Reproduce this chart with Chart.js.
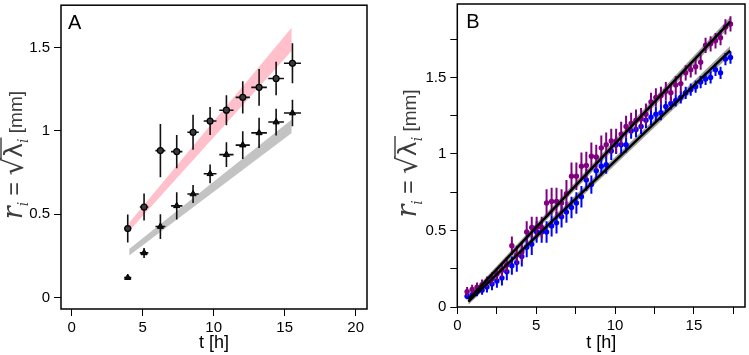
<!DOCTYPE html>
<html>
<head>
<meta charset="utf-8">
<script src="https://cdn.jsdelivr.net/npm/chart.js@4.4.0/dist/chart.umd.min.js"></script>
<style>
html, body { margin: 0; padding: 0; background: #fff; }
#wrap { position: relative; width: 749px; height: 355px; }
canvas { position: absolute; top: 0; }
</style>
</head>
<body>
<div id="wrap">
  <canvas id="chartA" width="375" height="355" style="left:0"></canvas>
  <canvas id="chartB" width="374" height="355" style="left:375px"></canvas>
</div>
<script>
// panel A: two point series with a shaded band each
const timeA = [3.95, 5.1, 6.25, 7.4, 8.55, 9.75, 10.9, 12.05, 13.2, 14.4, 15.55];
const timeErrA = [0.25, 0.3, 0.35, 0.4, 0.4, 0.45, 0.5, 0.5, 0.55, 0.55, 0.6];
const circleA = [0.415, 0.544, 0.882, 0.876, 0.992, 1.059, 1.124, 1.201, 1.261, 1.314, 1.405];
const circleErrA = [0.084, 0.081, 0.16, 0.1, 0.105, 0.084, 0.09, 0.097, 0.11, 0.1, 0.12];
const triangleA = [0.121, 0.269, 0.427, 0.551, 0.622, 0.743, 0.858, 0.915, 0.988, 1.053, 1.107];
const triangleErrA = [0.012, 0.03, 0.074, 0.082, 0.054, 0.056, 0.074, 0.083, 0.09, 0.08, 0.079];
const bandTimeA = [4.05, 15.5];
const pinkLowA = [0.40, 1.48];
const pinkHighA = [0.45, 1.62];
const greyLowA = [0.253, 0.988];
const greyHighA = [0.293, 1.069];

// panel B: purple and blue series with fitted lines
const timeB = [0.62, 0.94, 1.25, 1.57, 1.88, 2.20, 2.51, 2.83, 3.14, 3.46, 3.77, 4.09, 4.40, 4.72,
  5.03, 5.35, 5.66, 5.98, 6.29, 6.61, 6.92, 7.24, 7.55, 7.87, 8.18, 8.50, 8.81, 9.13, 9.44, 9.76,
  10.07, 10.39, 10.70, 11.02, 11.33, 11.65, 11.96, 12.28, 12.59, 12.91, 13.22, 13.54, 13.85, 14.17,
  14.48, 14.80, 15.11, 15.43, 15.74, 16.06, 16.37, 16.69, 17.00, 17.32];
const timeErrB = 0.13;
const purpleB = [0.10, 0.115, 0.13, 0.145, 0.165, 0.185, 0.215, 0.24, 0.275, 0.40, 0.34, 0.36, 0.49, 0.52,
  0.52, 0.52, 0.68, 0.69, 0.69, 0.68, 0.74, 0.855, 0.855, 0.92, 0.925, 0.985, 0.98, 1.04, 1.06, 1.085,
  1.085, 1.13, 1.18, 1.20, 1.22, 1.23, 1.26, 1.34, 1.37, 1.38, 1.41, 1.40, 1.45, 1.46,
  1.53, 1.55, 1.57, 1.60, 1.71, 1.72, 1.74, 1.76, 1.83, 1.85];
const purpleErrB = [0.03, 0.03, 0.03, 0.035, 0.035, 0.04, 0.04, 0.045, 0.05, 0.06, 0.06, 0.06, 0.07, 0.07,
  0.07, 0.07, 0.09, 0.09, 0.09, 0.09, 0.09, 0.09, 0.09, 0.09, 0.09, 0.09, 0.08, 0.08, 0.08, 0.08,
  0.08, 0.08, 0.07, 0.07, 0.07, 0.07, 0.07, 0.06, 0.06, 0.06, 0.06, 0.06, 0.06, 0.06,
  0.05, 0.05, 0.05, 0.05, 0.05, 0.05, 0.05, 0.05, 0.05, 0.05];
const blueB = [0.07, 0.08, 0.10, 0.11, 0.13, 0.15, 0.17, 0.19, 0.23, 0.27, 0.29, 0.33, 0.39, 0.41,
  0.49, 0.49, 0.49, 0.53, 0.55, 0.59, 0.62, 0.65, 0.68, 0.72, 0.83, 0.80, 0.89, 0.92, 0.93, 1.02,
  1.06, 1.06, 1.06, 1.15, 1.16, 1.18, 1.22, 1.24, 1.26, 1.27, 1.31, 1.33, 1.35, 1.37,
  1.40, 1.42, 1.44, 1.47, 1.49, 1.50, 1.55, 1.53, 1.62, 1.63];
const blueErrB = [0.02, 0.025, 0.03, 0.03, 0.035, 0.04, 0.045, 0.05, 0.055, 0.06, 0.06, 0.065, 0.065, 0.07,
  0.07, 0.07, 0.07, 0.07, 0.07, 0.07, 0.07, 0.07, 0.07, 0.07, 0.07, 0.06, 0.06, 0.06, 0.06, 0.06,
  0.06, 0.06, 0.05, 0.05, 0.05, 0.05, 0.05, 0.05, 0.05, 0.05, 0.04, 0.04, 0.04, 0.04,
  0.04, 0.04, 0.04, 0.04, 0.04, 0.04, 0.04, 0.04, 0.04, 0.04];
const fitTimeB = [0.7, 17.3];
const purpleFitB = [0.05, 1.865];
const purpleFitLowB = [0.03, 1.835];
const purpleFitHighB = [0.07, 1.895];
const blueFitB = [0.035, 1.675];
const blueFitLowB = [0.015, 1.645];
const blueFitHighB = [0.055, 1.705];

const FONT = '"Liberation Sans", Arial, sans-serif';
Chart.defaults.font.family = FONT;
Chart.defaults.color = '#000';

function pts(xs, ys) {
  return xs.map((x, i) => ({ x: x, y: ys[i] }));
}

// draws x/y error bars under each point dataset that has yErr
const errorBars = {
  id: 'errorBars',
  beforeDatasetDraw(chart, args) {
    const ds = chart.data.datasets[args.index];
    if (!ds.yErr) return;
    const xs = chart.scales.x, ys = chart.scales.y, ctx = chart.ctx;
    ctx.save();
    ctx.strokeStyle = ds.errColor;
    ctx.lineWidth = ds.errWidth;
    ds.data.forEach((p, i) => {
      const px = xs.getPixelForValue(p.x), py = ys.getPixelForValue(p.y);
      const dx = Array.isArray(ds.xErr) ? ds.xErr[i] : ds.xErr;
      ctx.beginPath();
      ctx.moveTo(px, ys.getPixelForValue(p.y - ds.yErr[i]));
      ctx.lineTo(px, ys.getPixelForValue(p.y + ds.yErr[i]));
      ctx.moveTo(xs.getPixelForValue(p.x - dx), py);
      ctx.lineTo(xs.getPixelForValue(p.x + dx), py);
      ctx.stroke();
    });
    ctx.restore();
  }
};

// y title  r_i = sqrt(lambda_i) [mm], drawn rotated
function drawYTitle(ctx, cx, cy) {
  const parts = [
    { t: 'r', f: 'italic 27px "DejaVu Serif"', dy: 0 },
    { t: 'i', f: 'italic 14px "DejaVu Serif"', dy: 6 },
    { t: ' = ', f: '23px ' + FONT, dy: 0 },
    { t: '\u221A', f: '28px "DejaVu Sans"', dy: 1, root: true },
    { t: '\u03BB', f: '25px "DejaVu Sans"', dy: 0, over: true },
    { t: 'i', f: 'italic 14px "DejaVu Serif"', dy: 6, over: true },
    { t: ' [mm]', f: '19px ' + FONT, dy: 0 }
  ];
  ctx.save();
  ctx.translate(cx, cy);
  ctx.rotate(-Math.PI / 2);
  ctx.fillStyle = '#3c3c3c';
  ctx.strokeStyle = '#3c3c3c';
  ctx.textBaseline = 'alphabetic';
  let total = 0;
  parts.forEach(p => { ctx.font = p.f; p.w = ctx.measureText(p.t).width; total += p.w; });
  let x = -total / 2;
  const base = 7;
  let ovStart = null, ovEnd = null;
  parts.forEach(p => {
    ctx.font = p.f;
    ctx.fillText(p.t, x, base + p.dy);
    if (p.root) ovStart = x + p.w - 1.5;
    if (p.over) ovEnd = x + p.w + 1;
    x += p.w;
  });
  ctx.lineWidth = 1.4;
  ctx.beginPath();
  ctx.moveTo(ovStart, base - 21);
  ctx.lineTo(ovEnd, base - 21);
  ctx.stroke();
  ctx.restore();
}

const frame = {
  id: 'frame',
  afterDraw(chart, args, opts) {
    const { ctx, chartArea: a } = chart;
    ctx.save();
    ctx.strokeStyle = '#000';
    ctx.lineWidth = 1.5;
    ctx.strokeRect(a.left, a.top, a.right - a.left, a.bottom - a.top);
    ctx.fillStyle = '#000';
    ctx.font = '20px ' + FONT;
    ctx.fillText(opts.letter, a.left + opts.dx, a.top + 24);
    ctx.restore();
    drawYTitle(ctx, opts.titleX, (a.top + a.bottom) / 2 - 2);
  }
};

function fmt(v) {
  return String(Math.round(v * 100) / 100);
}

function noPad(s) {
  s.paddingTop = 0; s.paddingBottom = 0; s.paddingLeft = 0; s.paddingRight = 0;
}

function xAxis(min, max, step, every, height) {
  return {
    type: 'linear', min: min, max: max,
    afterFit: s => { s.height = height; noPad(s); },
    ticks: {
      stepSize: step, includeBounds: false, autoSkip: false, maxRotation: 0,
      font: { size: 15 }, padding: 3,
      callback: v => (Math.abs(v / every - Math.round(v / every)) < 1e-6 ? fmt(v) : '')
    },
    grid: { display: true, drawOnChartArea: false, tickLength: 7, tickColor: '#000', tickWidth: 1 },
    border: { display: false },
    title: { display: true, text: 't [h]', font: { size: 18 }, padding: { top: 0, bottom: 1 } }
  };
}

function yAxis(min, max, step, every, width) {
  return {
    type: 'linear', min: min, max: max,
    afterFit: s => { s.width = width; noPad(s); },
    ticks: {
      stepSize: step, includeBounds: false, autoSkip: false,
      font: { size: 15 }, padding: 4,
      callback: v => (Math.abs(v / every - Math.round(v / every)) < 1e-6 ? fmt(v) : '')
    },
    grid: { display: true, drawOnChartArea: false, tickLength: 7, tickColor: '#000', tickWidth: 1 },
    border: { display: false }
  };
}

function band(xs, ys, color, fill, order) {
  return {
    type: 'line', data: pts(xs, ys), borderWidth: 0, borderColor: color, backgroundColor: color,
    pointRadius: 0, fill: fill, order: order, tension: 0
  };
}

new Chart(document.getElementById('chartA'), {
  type: 'scatter',
  data: {
    datasets: [
      band(bandTimeA, pinkLowA, '#ffc0cb', false, 3),
      band(bandTimeA, pinkHighA, '#ffc0cb', '-1', 3),
      band(bandTimeA, greyLowA, '#c3c3c3', false, 3),
      band(bandTimeA, greyHighA, '#c3c3c3', '-1', 3),
      {
        data: pts(timeA, circleA), pointStyle: 'circle', pointRadius: 3,
        backgroundColor: '#3a3a3a', borderColor: '#000', borderWidth: 1.2,
        yErr: circleErrA, xErr: timeErrA, errColor: '#111', errWidth: 1.6, order: 1
      },
      {
        data: pts(timeA, triangleA), pointStyle: 'triangle', pointRadius: 3.6,
        backgroundColor: '#111', borderColor: '#000', borderWidth: 1,
        yErr: triangleErrA, xErr: timeErrA, errColor: '#111', errWidth: 1.6, order: 1
      }
    ]
  },
  options: {
    responsive: false, animation: false, events: [],
    layout: { padding: { top: 2, right: 8, left: 0, bottom: 0 } },
    scales: {
      x: xAxis(-0.75, 20.8, 5, 5, 46),
      y: yAxis(-0.067, 1.753, 0.5, 0.5, 61)
    },
    plugins: {
      legend: { display: false }, tooltip: { enabled: false },
      frame: { letter: 'A', dx: 7, titleX: 15 }
    }
  },
  plugins: [errorBars, frame]
});

new Chart(document.getElementById('chartB'), {
  type: 'scatter',
  data: {
    datasets: [
      band(fitTimeB, purpleFitLowB, 'rgba(105,105,105,0.65)', false, 3),
      band(fitTimeB, purpleFitHighB, 'rgba(105,105,105,0.65)', '-1', 3),
      band(fitTimeB, blueFitLowB, 'rgba(105,105,105,0.65)', false, 3),
      band(fitTimeB, blueFitHighB, 'rgba(105,105,105,0.65)', '-1', 3),
      {
        data: pts(timeB, purpleB), pointRadius: 2.7, backgroundColor: '#800080', borderWidth: 0,
        yErr: purpleErrB, xErr: timeErrB, errColor: '#800080', errWidth: 2, order: 2
      },
      {
        data: pts(timeB, blueB), pointRadius: 2.7, backgroundColor: '#0000ff', borderWidth: 0,
        yErr: blueErrB, xErr: timeErrB, errColor: '#0000ff', errWidth: 2, order: 2
      },
      {
        type: 'line', data: pts(fitTimeB, purpleFitB), borderColor: '#000', borderWidth: 2.5,
        pointRadius: 0, fill: false, order: 1
      },
      {
        type: 'line', data: pts(fitTimeB, blueFitB), borderColor: '#000', borderWidth: 2.5,
        pointRadius: 0, fill: false, order: 1
      }
    ]
  },
  options: {
    responsive: false, animation: false, events: [],
    layout: { padding: { top: 2, right: 2.3, left: 0, bottom: 0 } },
    scales: {
      x: xAxis(0, 18.24, 2.5, 5, 48),
      y: yAxis(0, 1.98, 0.25, 0.5, 82.3)
    },
    plugins: {
      legend: { display: false }, tooltip: { enabled: false },
      frame: { letter: 'B', dx: 9, titleX: 34 }
    }
  },
  plugins: [errorBars, frame]
});
</script>
</body>
</html>
